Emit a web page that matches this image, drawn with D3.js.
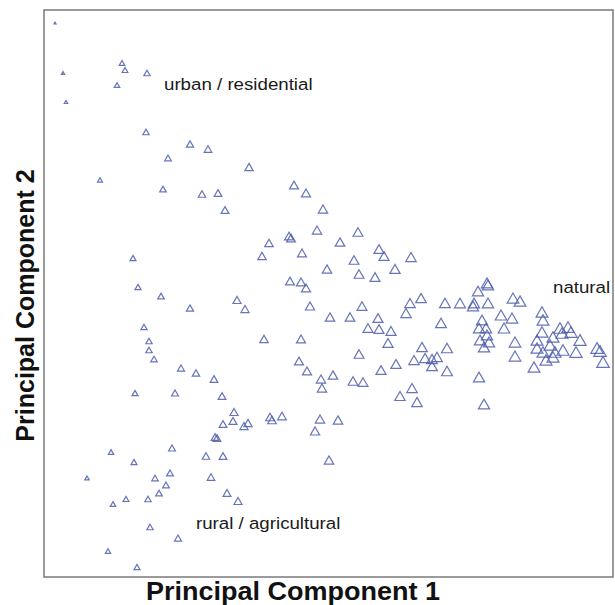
<!DOCTYPE html>
<html>
<head>
<meta charset="utf-8">
<script src="https://cdn.jsdelivr.net/npm/d3@7"></script>
<style>
  body { margin: 0; background: #fff; }
  text { font-family: Arial, "Liberation Sans", sans-serif; }
</style>
</head>
<body>
<svg id="chart"></svg>
<script>
// PCA scores of sites
const pc1 = [
  -2.74, -2.66, -2.07, -2.04, -1.82, -2.12, -2.63, -1.83, -1.39, -1.21,
  -1.61, -2.29, -1.66, -1.27, -1.11, -0.80, -1.04, -1.96, -1.91, -0.35,
  -0.23, -0.06, -0.12, 0.29, -0.40, -0.38, -0.60, 0.11, 0.50, 0.55,
  0.82, -0.67, -0.27, 0.25, -0.02, 0.66, 0.30, 0.46, -0.39, -0.28,
  -0.23, -0.92, -0.84, -0.19, 0.33, 0.81, 0.92, 0.01, 0.21, 0.49,
  0.77, 0.39, 0.50, 0.62, -0.65, -0.28, 0.59, 0.30, 0.85, -0.30,
  -0.22, 0.04, 0.52, 0.67, -0.08, -0.07, 0.24, 0.34, 0.83, 0.71,
  0.88, -1.07, -1.15, -0.95, -0.96, -1.06, -0.85, -0.81, -0.59, -0.57,
  -0.47, -0.09, 0.09, -0.14, -1.14, -1.12, -1.23, -1.06, 0.00, -1.18,
  -1.68, -1.39, -1.85, -1.80, -1.80, -1.75, -1.48, -1.33, -1.94, -1.54,
  -2.18, -1.57, -1.95, -1.59, -2.42, -1.74, -1.63, -1.70, -2.03, -2.16,
  -1.81, -1.02, -0.91, -1.79, -1.51, -2.21, -1.92, 1.16, 1.31, 1.45,
  1.44, 1.59, 1.49, 1.58, 1.59, 1.12, 1.53, 1.50, 1.57, 1.51,
  1.60, 1.55, 1.58, 1.72, 1.75, 0.93, 1.18, 0.96, 1.03, 1.08,
  1.03, 1.18, 1.50, 1.55, 1.84, 1.91, 1.83, 2.13, 2.14, 2.13,
  2.31, 2.39, 2.42, 2.24, 2.33, 2.51, 1.86, 1.86, 2.08, 2.08,
  2.21, 2.26, 2.34, 2.14, 2.47, 2.17, 2.05, 2.68, 2.71, 2.74,
  2.24
];
const pc2 = [
  2.70, 2.20, 2.30, 2.23, 2.20, 2.08, 1.91, 1.61, 1.49, 1.44,
  1.35, 1.13, 1.04, 0.99, 1.00, 1.26, 0.83, 0.35, 0.06, 1.08,
  1.00, 0.84, 0.63, 0.61, 0.57, 0.55, 0.50, 0.51, 0.44, 0.37,
  0.36, 0.37, 0.40, 0.33, 0.24, 0.24, 0.19, 0.16, 0.12, 0.11,
  0.05, -0.07, -0.16, -0.13, -0.13, -0.10, -0.05, -0.24, -0.24, -0.25,
  -0.20, -0.35, -0.36, -0.38, -0.46, -0.46, -0.50, -0.61, -0.67, -0.68,
  -0.78, -0.82, -0.77, -0.71, -0.86, -0.95, -0.88, -0.89, -0.95, -1.03,
  -1.09, -1.03, -0.86, -1.19, -1.28, -1.31, -1.33, -1.30, -1.24, -1.27,
  -1.23, -1.26, -1.27, -1.38, -1.44, -1.45, -1.63, -1.63, -1.67, -1.84,
  -0.03, -0.15, -0.34, -0.48, -0.57, -0.66, -0.75, -0.80, -1.00, -1.00,
  -1.59, -1.55, -1.69, -1.80, -1.85, -1.85, -1.92, -2.00, -2.06, -2.11,
  -2.06, -2.00, -2.08, -2.34, -2.45, -2.58, -2.74, -0.10, -0.10, -0.10,
  -0.13, -0.10, 0.02, 0.10, 0.08, -0.30, -0.27, -0.35, -0.35, -0.47,
  -0.49, -0.54, -0.42, -0.22, -0.35, -0.54, -0.55, -0.65, -0.66, -0.64,
  -0.73, -0.78, -0.84, -1.11, -0.05, -0.08, -0.25, -0.19, -0.27, -0.39,
  -0.35, -0.34, -0.39, -0.44, -0.40, -0.47, -0.49, -0.63, -0.47, -0.55,
  -0.52, -0.59, -0.57, -0.59, -0.59, -0.67, -0.74, -0.55, -0.58, -0.69,
  -0.64
];
const xDomain = [-2.85, 2.84];
const yDomain = [-2.84, 2.83];

const labels = [
  { text: "urban / residential", x: -1.65, y: 2.03 },
  { text: "rural / agricultural", x: -1.33, y: -2.36 },
  { text: "natural", x: 2.24, y: 0.00 }
];

function scatter() {
  const width = 615;
  const height = 605;
  const left = 44, top = 10, right = 613, bottom = 577;

  const svg = d3.select("#chart")
    .attr("width", width)
    .attr("height", height);

  const x = d3.scaleLinear().domain(xDomain).range([left, right]);
  const y = d3.scaleLinear().domain(yDomain).range([bottom, top]);

  // triangles grow with PC1
  const minPc1 = d3.min(pc1);
  const size = d3.scaleSqrt()
    .domain([0, d3.max(pc1) - minPc1])
    .range([2, 12.5]);

  const triangle = function(w) {
    const h = w * 0.87;
    return `M0,${-h / 2}L${w / 2},${h / 2}L${-w / 2},${h / 2}Z`;
  };

  const data = pc1.map((v, i) => ({ pc1: v, pc2: pc2[i] }));

  svg.append("g")
    .selectAll("path")
    .data(data)
    .join("path")
    .attr("transform", d => `translate(${x(d.pc1)},${y(d.pc2)})`)
    .attr("d", d => triangle(size(d.pc1 - minPc1)))
    .attr("fill", "none")
    .attr("stroke", "#4c5cab")
    .attr("stroke-opacity", 0.85)
    .attr("stroke-width", 1.2);

  // frame
  svg.append("rect")
    .attr("x", left)
    .attr("y", top)
    .attr("width", right - left)
    .attr("height", bottom - top)
    .attr("fill", "none")
    .attr("stroke", "#7a7a7a")
    .attr("stroke-width", 1.5);

  // group labels
  svg.append("g")
    .selectAll("text")
    .data(labels)
    .join("text")
    .attr("transform", d => `translate(${x(d.x)},${y(d.y)}) scale(1.1,1)`)
    .attr("font-size", 17)
    .attr("fill", "#1a1a1a")
    .text(d => d.text);

  // axis titles
  svg.append("text")
    .attr("transform", "translate(293,600) scale(1.08,1)")
    .attr("text-anchor", "middle")
    .attr("font-size", 25)
    .attr("font-weight", "bold")
    .attr("fill", "#111")
    .text("Principal Component 1");

  svg.append("text")
    .attr("transform", `translate(34,${(top + bottom) / 2 + 12}) rotate(-90)`)
    .attr("text-anchor", "middle")
    .attr("font-size", 25)
    .attr("font-weight", "bold")
    .attr("fill", "#111")
    .text("Principal Component 2");
}

scatter();
</script>
</body>
</html>
